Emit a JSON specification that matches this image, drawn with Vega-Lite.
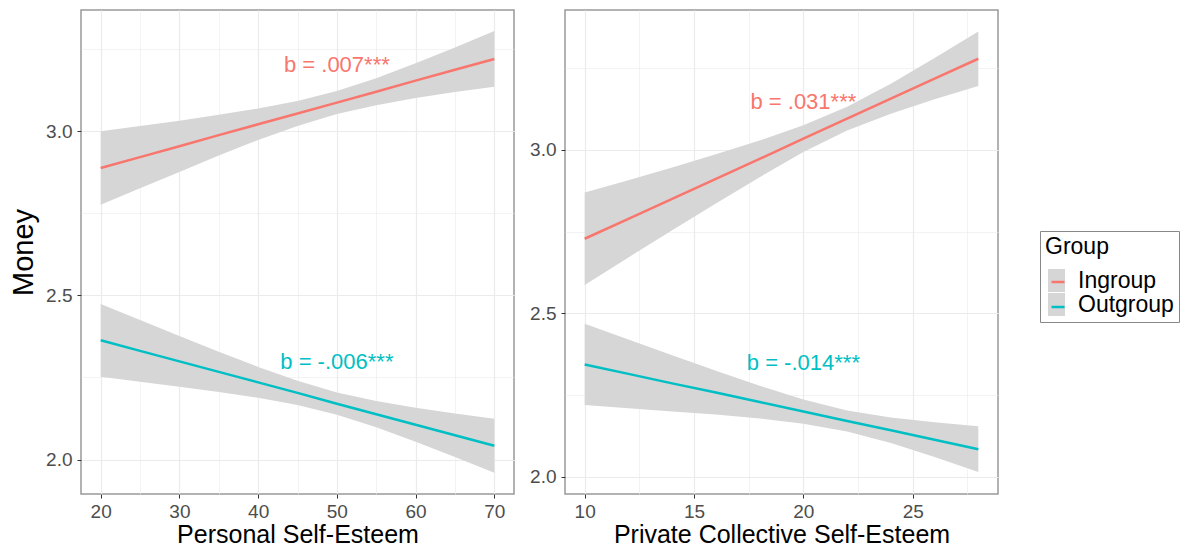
{
  "$schema": "https://vega.github.io/schema/vega-lite/v6.json",
  "padding": {"left": 8, "top": 9, "right": 0, "bottom": 0},
  "autosize": {"type": "pad"},
  "spacing": 13,
  "datasets": {
    "curves": [
      {"panel": "personal", "group": "Ingroup", "x": 20, "y": 2.888, "lo": 2.776, "hi": 3.000},
      {"panel": "personal", "group": "Ingroup", "x": 25, "y": 2.921, "lo": 2.826, "hi": 3.016},
      {"panel": "personal", "group": "Ingroup", "x": 30, "y": 2.954, "lo": 2.876, "hi": 3.032},
      {"panel": "personal", "group": "Ingroup", "x": 35, "y": 2.988, "lo": 2.926, "hi": 3.050},
      {"panel": "personal", "group": "Ingroup", "x": 40, "y": 3.021, "lo": 2.973, "hi": 3.069},
      {"panel": "personal", "group": "Ingroup", "x": 45, "y": 3.054, "lo": 3.016, "hi": 3.092},
      {"panel": "personal", "group": "Ingroup", "x": 50, "y": 3.087, "lo": 3.052, "hi": 3.122},
      {"panel": "personal", "group": "Ingroup", "x": 55, "y": 3.120, "lo": 3.079, "hi": 3.161},
      {"panel": "personal", "group": "Ingroup", "x": 60, "y": 3.154, "lo": 3.101, "hi": 3.207},
      {"panel": "personal", "group": "Ingroup", "x": 65, "y": 3.187, "lo": 3.119, "hi": 3.255},
      {"panel": "personal", "group": "Ingroup", "x": 70, "y": 3.220, "lo": 3.135, "hi": 3.305},
      {"panel": "personal", "group": "Outgroup", "x": 20, "y": 2.363, "lo": 2.252, "hi": 2.474},
      {"panel": "personal", "group": "Outgroup", "x": 25, "y": 2.331, "lo": 2.237, "hi": 2.425},
      {"panel": "personal", "group": "Outgroup", "x": 30, "y": 2.299, "lo": 2.222, "hi": 2.376},
      {"panel": "personal", "group": "Outgroup", "x": 35, "y": 2.267, "lo": 2.206, "hi": 2.328},
      {"panel": "personal", "group": "Outgroup", "x": 40, "y": 2.235, "lo": 2.188, "hi": 2.282},
      {"panel": "personal", "group": "Outgroup", "x": 45, "y": 2.203, "lo": 2.166, "hi": 2.240},
      {"panel": "personal", "group": "Outgroup", "x": 50, "y": 2.170, "lo": 2.136, "hi": 2.204},
      {"panel": "personal", "group": "Outgroup", "x": 55, "y": 2.138, "lo": 2.098, "hi": 2.178},
      {"panel": "personal", "group": "Outgroup", "x": 60, "y": 2.106, "lo": 2.054, "hi": 2.158},
      {"panel": "personal", "group": "Outgroup", "x": 65, "y": 2.074, "lo": 2.008, "hi": 2.140},
      {"panel": "personal", "group": "Outgroup", "x": 70, "y": 2.042, "lo": 1.960, "hi": 2.124},
      {"panel": "private", "group": "Ingroup", "x": 10, "y": 2.728, "lo": 2.587, "hi": 2.869},
      {"panel": "private", "group": "Ingroup", "x": 12, "y": 2.789, "lo": 2.671, "hi": 2.907},
      {"panel": "private", "group": "Ingroup", "x": 14, "y": 2.850, "lo": 2.754, "hi": 2.946},
      {"panel": "private", "group": "Ingroup", "x": 16, "y": 2.911, "lo": 2.836, "hi": 2.986},
      {"panel": "private", "group": "Ingroup", "x": 18, "y": 2.972, "lo": 2.916, "hi": 3.028},
      {"panel": "private", "group": "Ingroup", "x": 20, "y": 3.034, "lo": 2.993, "hi": 3.075},
      {"panel": "private", "group": "Ingroup", "x": 22, "y": 3.095, "lo": 3.059, "hi": 3.131},
      {"panel": "private", "group": "Ingroup", "x": 24, "y": 3.156, "lo": 3.110, "hi": 3.202},
      {"panel": "private", "group": "Ingroup", "x": 26, "y": 3.217, "lo": 3.154, "hi": 3.280},
      {"panel": "private", "group": "Ingroup", "x": 28, "y": 3.278, "lo": 3.195, "hi": 3.361},
      {"panel": "private", "group": "Outgroup", "x": 10, "y": 2.344, "lo": 2.220, "hi": 2.468},
      {"panel": "private", "group": "Outgroup", "x": 12, "y": 2.315, "lo": 2.210, "hi": 2.420},
      {"panel": "private", "group": "Outgroup", "x": 14, "y": 2.286, "lo": 2.200, "hi": 2.372},
      {"panel": "private", "group": "Outgroup", "x": 16, "y": 2.258, "lo": 2.191, "hi": 2.325},
      {"panel": "private", "group": "Outgroup", "x": 18, "y": 2.229, "lo": 2.179, "hi": 2.279},
      {"panel": "private", "group": "Outgroup", "x": 20, "y": 2.200, "lo": 2.163, "hi": 2.237},
      {"panel": "private", "group": "Outgroup", "x": 22, "y": 2.171, "lo": 2.139, "hi": 2.203},
      {"panel": "private", "group": "Outgroup", "x": 24, "y": 2.143, "lo": 2.104, "hi": 2.182},
      {"panel": "private", "group": "Outgroup", "x": 26, "y": 2.114, "lo": 2.061, "hi": 2.167},
      {"panel": "private", "group": "Outgroup", "x": 28, "y": 2.085, "lo": 2.015, "hi": 2.155}
    ],
    "notes": [
      {"panel": "personal", "group": "Ingroup", "x": 50, "y": 3.2, "label": "b = .007***"},
      {"panel": "personal", "group": "Outgroup", "x": 50, "y": 2.296, "label": "b = -.006***"},
      {"panel": "private", "group": "Ingroup", "x": 20, "y": 3.146, "label": "b = .031***"},
      {"panel": "private", "group": "Outgroup", "x": 20, "y": 2.348, "label": "b = -.014***"}
    ]
  },
  "config": {
    "font": "Liberation Sans",
    "view": {"stroke": "#999999", "strokeWidth": 1.5},
    "axis": {
      "domain": false,
      "gridColor": "#ebebeb",
      "tickColor": "#333333",
      "tickSize": 4,
      "labelColor": "#4d4d4d",
      "labelFontSize": 19,
      "labelFont": "Liberation Sans",
      "labelPadding": 4,
      "titleColor": "#000000",
      "titleFontWeight": "normal",
      "titleFont": "Liberation Sans"
    }
  },
  "hconcat": [
    {
      "width": 433,
      "height": 484,
      "layer": [
        {
          "data": {"name": "curves"},
          "transform": [{"filter": "datum.panel == 'personal'"}],
          "mark": {"type": "area", "opacity": 1},
          "encoding": {
            "x": {"field": "x", "type": "quantitative", "scale": {"domain": [17.5, 72.5], "nice": false, "zero": false},
              "axis": {"title": "Personal Self-Esteem", "titleFontSize": 25, "titlePadding": 1,
                "values": [20, 25, 30, 35, 40, 45, 50, 55, 60, 65, 70],
                "labelExpr": "datum.value % 10 == 0 ? datum.label : ''",
                "gridWidth": {"condition": {"test": "datum.value % 10 == 0", "value": 1.2}, "value": 0.6},
                "tickOpacity": {"condition": {"test": "datum.value % 10 == 0", "value": 1}, "value": 0}}},
            "y": {"field": "lo", "type": "quantitative", "scale": {"domain": [1.895, 3.369], "nice": false, "zero": false},
              "axis": {"title": "Money", "titleFontSize": 29, "titlePadding": 7, "format": ".1f", "labelPadding": 5,
                "values": [2.0, 2.25, 2.5, 2.75, 3.0, 3.25],
                "labelExpr": "round(datum.value * 4) % 2 == 0 ? datum.label : ''",
                "gridWidth": {"condition": {"test": "round(datum.value * 4) % 2 == 0", "value": 1.2}, "value": 0.6},
                "tickOpacity": {"condition": {"test": "round(datum.value * 4) % 2 == 0", "value": 1}, "value": 0}}},
            "y2": {"field": "hi"},
            "fill": {"field": "group", "type": "nominal",
              "scale": {"domain": ["Ingroup", "Outgroup"], "range": ["#d6d6d6", "#d6d6d6"]},
              "legend": {"orient": "none", "legendX": 959, "legendY": 221, "title": "Group",
                "titleFontSize": 23, "titleFontWeight": "normal", "titleColor": "#000000", "titleFont": "Liberation Sans",
                "labelFontSize": 23, "labelColor": "#000000", "labelFont": "Liberation Sans",
                "symbolType": "M-0.74,-1H0.74V1H-0.74Z", "symbolSize": 529, "symbolStrokeWidth": 0, "symbolOpacity": 1,
                "rowPadding": 0, "labelOffset": 10, "padding": 5, "titlePadding": 10, "strokeColor": "#888888"}}
          }
        },
        {
          "data": {"name": "curves"},
          "transform": [{"filter": "datum.panel == 'personal'"}],
          "mark": {"type": "line", "strokeWidth": 2.5},
          "encoding": {
            "x": {"field": "x", "type": "quantitative"},
            "y": {"field": "y", "type": "quantitative"},
            "stroke": {"field": "group", "type": "nominal",
              "scale": {"range": ["#F8766D", "#00BFC4"]},
              "legend": {"orient": "none", "legendX": 959, "legendY": 221, "title": "Group",
                "titleFontSize": 23, "titleFontWeight": "normal", "titleColor": "rgba(0,0,0,0)", "titleFont": "Liberation Sans",
                "labelFontSize": 23, "labelColor": "rgba(0,0,0,0)", "labelFont": "Liberation Sans", "labelExpr": "''",
                "symbolType": "M-0.565,0H0.565", "symbolSize": 529, "symbolStrokeWidth": 2.5, "symbolOpacity": 1,
                "rowPadding": 0, "labelOffset": 10, "padding": 5, "titlePadding": 10}}
          }
        },
        {
          "data": {"name": "notes"},
          "transform": [{"filter": "datum.panel == 'personal'"}],
          "mark": {"type": "text", "fontSize": 22, "font": "Liberation Sans", "align": "center", "baseline": "middle"},
          "encoding": {
            "x": {"field": "x", "type": "quantitative"},
            "y": {"field": "y", "type": "quantitative"},
            "text": {"field": "label"},
            "color": {"field": "group", "type": "nominal", "scale": {"domain": ["Ingroup", "Outgroup"], "range": ["#F8766D", "#00BFC4"]}, "legend": null}
          }
        }
      ]
    },
    {
      "width": 433,
      "height": 484,
      "layer": [
        {
          "data": {"name": "curves"},
          "transform": [{"filter": "datum.panel == 'private'"}],
          "mark": {"type": "area", "opacity": 1},
          "encoding": {
            "x": {"field": "x", "type": "quantitative", "scale": {"domain": [9.1, 28.9], "nice": false, "zero": false},
              "axis": {"title": "Private Collective Self-Esteem", "titleFontSize": 25, "titlePadding": 1,
                "values": [10, 12.5, 15, 17.5, 20, 22.5, 25, 27.5],
                "labelExpr": "datum.value % 5 == 0 ? datum.label : ''",
                "gridWidth": {"condition": {"test": "datum.value % 5 == 0", "value": 1.2}, "value": 0.6},
                "tickOpacity": {"condition": {"test": "datum.value % 5 == 0", "value": 1}, "value": 0}}},
            "y": {"field": "lo", "type": "quantitative", "scale": {"domain": [1.948, 3.427], "nice": false, "zero": false},
              "axis": {"title": null, "format": ".1f", "labelPadding": 5,
                "values": [2.0, 2.25, 2.5, 2.75, 3.0, 3.25],
                "labelExpr": "round(datum.value * 4) % 2 == 0 ? datum.label : ''",
                "gridWidth": {"condition": {"test": "round(datum.value * 4) % 2 == 0", "value": 1.2}, "value": 0.6},
                "tickOpacity": {"condition": {"test": "round(datum.value * 4) % 2 == 0", "value": 1}, "value": 0}}},
            "y2": {"field": "hi"},
            "fill": {"field": "group", "type": "nominal",
              "scale": {"domain": ["Ingroup", "Outgroup"], "range": ["#d6d6d6", "#d6d6d6"]}}
          }
        },
        {
          "data": {"name": "curves"},
          "transform": [{"filter": "datum.panel == 'private'"}],
          "mark": {"type": "line", "strokeWidth": 2.5},
          "encoding": {
            "x": {"field": "x", "type": "quantitative"},
            "y": {"field": "y", "type": "quantitative"},
            "stroke": {"field": "group", "type": "nominal", "scale": {"range": ["#F8766D", "#00BFC4"]}}
          }
        },
        {
          "data": {"name": "notes"},
          "transform": [{"filter": "datum.panel == 'private'"}],
          "mark": {"type": "text", "fontSize": 22, "font": "Liberation Sans", "align": "center", "baseline": "middle"},
          "encoding": {
            "x": {"field": "x", "type": "quantitative"},
            "y": {"field": "y", "type": "quantitative"},
            "text": {"field": "label"},
            "color": {"field": "group", "type": "nominal", "scale": {"domain": ["Ingroup", "Outgroup"], "range": ["#F8766D", "#00BFC4"]}, "legend": null}
          }
        }
      ]
    }
  ]
}
